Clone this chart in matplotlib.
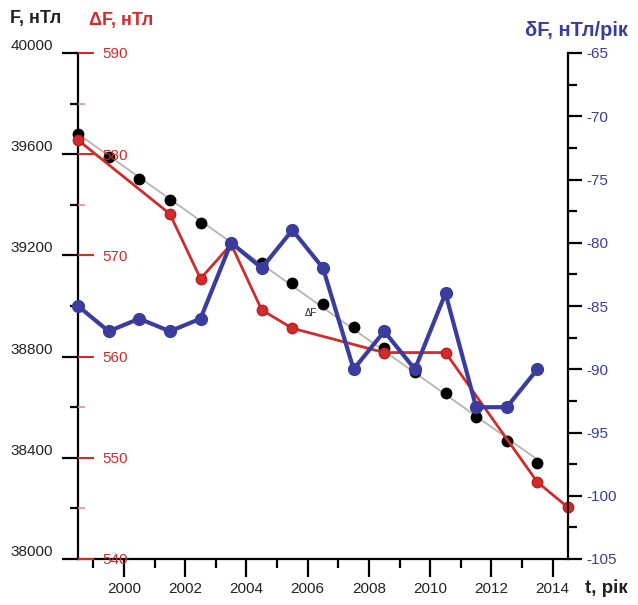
import numpy as np
import matplotlib
matplotlib.use('Agg')
import matplotlib.pyplot as plt
from matplotlib.ticker import MultipleLocator

plt.rcParams['font.family'] = ['Liberation Sans', 'DejaVu Sans']

# years of observation (mid-year epochs)
years = np.arange(1998.5, 2015.0, 1.0)

# total field F, nT (black dots)
f_years = years[:16]
f_vals = [39680, 39590, 39502, 39419, 39328, 39245, 39170, 39091,
          39008, 38917, 38834, 38739, 38656, 38561, 38466, 38379]

# anomaly dF, nT (red)
df_years = [1998.5, 2001.5, 2002.5, 2003.5, 2004.5, 2005.5,
            2008.5, 2010.5, 2013.5, 2014.5]
df_vals = [581.4, 574.1, 567.7, 571.1, 564.6, 562.8,
           560.4, 560.4, 547.6, 545.1]

# secular variation, nT/year (blue)
sv_years = years[:16]
sv_vals = [-85, -87, -86, -87, -86, -80, -82, -79,
           -82, -90, -87, -90, -84, -93, -93, -90]

dark = '#222222'
red = '#d12b2b'
blue = '#3a3c9e'

PX = 0.72  # points per pixel at 100 dpi

fig = plt.figure(figsize=(6.38, 6.05), dpi=100)
ax = fig.add_axes([78 / 638, 1 - 559 / 605, 490 / 638, 506 / 605])
ax_d = ax.twinx()
ax_s = ax.twinx()

# --- F axis (left, black) ---
ax.set_xlim(1998.5, 2014.5)
ax.set_ylim(38000, 40000)
ax.spines['top'].set_visible(False)
ax.spines['right'].set_visible(False)
for s in ('left', 'bottom'):
    ax.spines[s].set_linewidth(1.6)
ax.yaxis.set_minor_locator(MultipleLocator(200))
ax.xaxis.set_minor_locator(MultipleLocator(1))
ax.tick_params(axis='y', which='major', direction='out', length=16 * PX,
               width=1.6, pad=9 * PX, labelsize=11, labelcolor=dark)
ax.tick_params(axis='y', which='minor', direction='out', length=8 * PX, width=1.6)
ax.tick_params(axis='x', which='major', direction='out', length=18 * PX,
               width=1.6, pad=5 * PX, labelsize=11, labelcolor=dark)
ax.tick_params(axis='x', which='minor', direction='out', length=9 * PX, width=1.6)
ax.set_xticks(np.arange(2000, 2015, 2))
ax.set_xticklabels([str(y) for y in range(2000, 2015, 2)])
ax.set_yticks(np.arange(38000, 40001, 400))
ax.set_yticklabels([str(v) for v in range(38000, 40001, 400)])
for lab in ax.get_yticklabels():
    lab.set_va('bottom')

# trend line through F
coef = np.polyfit(f_years, f_vals, 1)
tx = np.array([f_years[0], f_years[-1]])
ax.plot(tx, np.polyval(coef, tx), color='#b5b5b5', lw=1.3, zorder=2)
ax.plot(f_years, f_vals, 'o', color='black', ms=7.5, zorder=3, clip_on=False)
ax.text(2006.1, 38972, 'ΔF', fontsize=7, color=dark, ha='center', va='center')

# --- dF axis (red, labels inside the left spine) ---
ax_d.set_ylim(540, 590)
ax_d.spines['right'].set_position(('axes', 0))
ax_d.spines['right'].set_color('none')
for s in ('top', 'left', 'bottom'):
    ax_d.spines[s].set_visible(False)
ax_d.yaxis.set_major_locator(MultipleLocator(10))
ax_d.yaxis.set_minor_locator(MultipleLocator(5))
ax_d.tick_params(axis='y', which='major', direction='out', length=16 * PX,
                 width=1.5, color=red, labelcolor=red, labelsize=11, pad=8 * PX)
ax_d.tick_params(axis='y', which='minor', direction='out', length=7 * PX,
                 width=1.2, color='#e59090')
ax_d.plot(df_years, df_vals, '-o', color=red, lw=2, ms=7.5, mfc=red,
          mec='#b82020', zorder=4, clip_on=False)

# --- secular variation axis (right, blue) ---
ax_s.set_ylim(-105, -65)
for s in ('top', 'left', 'bottom'):
    ax_s.spines[s].set_visible(False)
ax_s.spines['right'].set_linewidth(1.6)
ax_s.yaxis.set_minor_locator(MultipleLocator(2.5))
ax_s.tick_params(axis='y', which='major', direction='out', length=14 * PX,
                 width=1.6, pad=3, labelsize=11, labelcolor=blue)
ax_s.tick_params(axis='y', which='minor', direction='out', length=9 * PX, width=1.6)
ax_s.set_yticks(np.arange(-105, -64, 5))
ax_s.set_yticklabels([str(v) for v in range(-105, -64, 5)])
ax_s.plot(sv_years, sv_vals, '-o', color=blue, lw=3.0, ms=8.5, zorder=5,
          clip_on=False)

# axis titles
fig.text(10 / 638, 1 - 18 / 605, 'F, нТл', fontsize=13, fontweight='bold',
         color=dark, ha='left', va='center')
fig.text(89 / 638, 1 - 20 / 605, 'ΔF, нТл', fontsize=13, fontweight='bold',
         color=red, ha='left', va='center')
fig.text(628 / 638, 1 - 30 / 605, 'δF, нТл/рік', fontsize=14.5, fontweight='bold',
         color=blue, ha='right', va='center')
fig.text(628 / 638, 1 - 588 / 605, 't, рік', fontsize=13.5, fontweight='bold',
         color=dark, ha='right', va='center')

fig.savefig('out.png', dpi=100, facecolor='white')
